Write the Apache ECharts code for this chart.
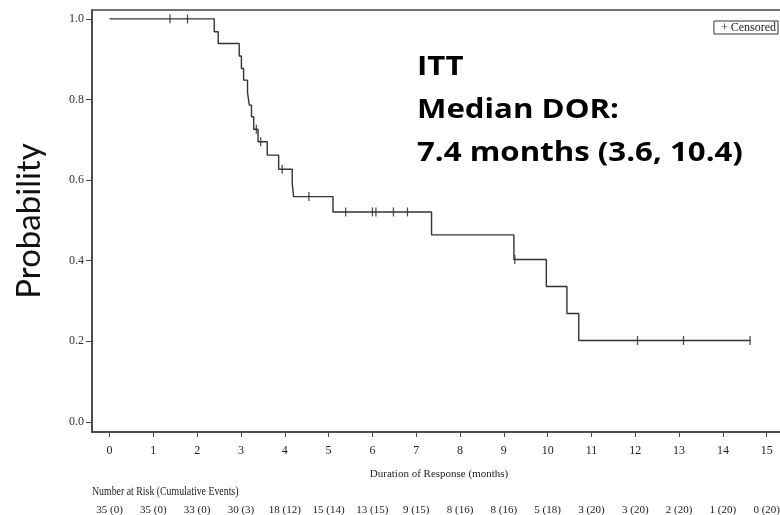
<!DOCTYPE html>
<html>
<head>
<meta charset="utf-8">
<script src="https://cdn.jsdelivr.net/npm/echarts@6/dist/echarts.min.js"></script>
<style>
html,body{margin:0;padding:0;background:#fff;}
#chart{width:780px;height:515px;}
</style>
</head>
<body>
<div id="chart"></div>
<script>
// Kaplan-Meier step points: event times (months) and survival after each step
const kmTimes = [0, 2.39, 2.48, 2.96, 3.01, 3.06, 3.15, 3.19, 3.24, 3.29, 3.39, 3.60, 3.86, 4.17, 4.20, 5.10, 7.35, 9.23, 9.97, 10.44, 10.71, 14.62];
const kmProb  = [1.0, 0.968, 0.939, 0.908, 0.877, 0.848, 0.817, 0.786, 0.757, 0.726, 0.695, 0.662, 0.627, 0.593, 0.559, 0.521, 0.464, 0.403, 0.336, 0.269, 0.202, 0.202];
// Censored observations
const censorTimes = [1.38, 1.78, 3.35, 3.45, 3.94, 4.55, 5.39, 6.00, 6.08, 6.48, 6.80, 9.25, 12.05, 13.10, 14.62];
const censorProb  = [1.0, 1.0, 0.726, 0.695, 0.627, 0.559, 0.521, 0.521, 0.521, 0.521, 0.521, 0.403, 0.202, 0.202, 0.202];
// Axis ticks
const xTicks = [0,1,2,3,4,5,6,7,8,9,10,11,12,13,14,15];
const yTicks = [0.0, 0.2, 0.4, 0.6, 0.8, 1.0];
// Number at risk (cumulative events) at each x tick
const atRisk = ["35 (0)","35 (0)","33 (0)","30 (3)","18 (12)","15 (14)","13 (15)","9 (15)","8 (16)","8 (16)","5 (18)","3 (20)","3 (20)","2 (20)","1 (20)","0 (20)"];
const annotation = ["ITT", "Median DOR:", "7.4 months (3.6, 10.4)"];

const serif = '"Liberation Serif", "DejaVu Serif", serif';
const chart = echarts.init(document.getElementById('chart'), null, {renderer: 'canvas'});

const kmData = kmTimes.map((t, i) => [t, kmProb[i]]);
const censorData = censorTimes.map((t, i) => [t, censorProb[i]]);

chart.setOption({
  animation: false,
  backgroundColor: '#fff',
  grid: {
    left: 92, right: -6, top: 10, bottom: 83,
    outerBoundsMode: 'none', containLabel: false,
    show: true, borderColor: '#444', borderWidth: 1.5, backgroundColor: 'transparent'
  },
  legend: {
    data: ['Censored'],
    right: 2, top: 21,
    icon: 'rect', itemWidth: 0, itemHeight: 0, itemGap: 0,
    formatter: () => '+ Censored',
    borderColor: '#333', borderWidth: 1, padding: [1, 2, 0, 2],
    textStyle: {fontFamily: serif, fontSize: 12, color: '#222', padding: [0,0,0,0]}
  },
  xAxis: [{
    type: 'value', min: -0.4, max: 15.44,
    name: 'Duration of Response (months)', nameLocation: 'middle', nameGap: 37,
    nameTextStyle: {fontFamily: serif, fontSize: 11, color: '#222'},
    axisLine: {show: true, onZero: false, lineStyle: {color: '#444', width: 1.5}},
    axisTick: {show: true, length: 5, customValues: xTicks, lineStyle: {color: '#444'}},
    axisLabel: {customValues: xTicks, fontFamily: serif, fontSize: 12, color: '#222', margin: 13,
      formatter: v => String(Math.round(v))},
    splitLine: {show: false}
  }, {
    type: 'value', min: -0.4, max: 15.44, position: 'bottom', offset: 65,
    axisLine: {show: false}, axisTick: {show: false},
    axisLabel: {customValues: xTicks, fontFamily: serif, fontSize: 11, color: '#222',
      formatter: v => atRisk[Math.round(v)] || ''},
    splitLine: {show: false}
  }],
  yAxis: {
    type: 'value', min: -0.025, max: 1.022,
    name: 'Probability', nameLocation: 'middle', nameGap: 46, nameRotate: 90,
    nameTextStyle: {fontFamily: 'Lato, "Open Sans", sans-serif', fontSize: 33, color: '#111'},
    axisLine: {show: true, onZero: false, lineStyle: {color: '#444', width: 1.5}},
    axisTick: {show: true, length: 6, customValues: yTicks, lineStyle: {color: '#444'}},
    axisLabel: {customValues: yTicks, fontFamily: serif, fontSize: 12, color: '#333', margin: 8,
      formatter: v => v.toFixed(1)},
    splitLine: {show: false}
  },
  graphic: [{
    type: 'text', x: 92, y: 486, scaleX: 0.82,
    style: {text: 'Number at Risk (Cumulative Events)', font: '12px ' + serif, fill: '#222'}
  }, {
    type: 'text', x: 417, y: 46, scaleX: 1.2,
    style: {text: annotation.join('\n'), font: 'bold 26px "Open Sans", Lato, sans-serif',
      lineHeight: 43, fill: '#000'}
  }],
  series: [{
    name: 'KM', type: 'line', step: 'end', data: kmData,
    showSymbol: false, symbol: 'none',
    lineStyle: {color: '#333', width: 1.4}
  }, {
    name: 'Censored', type: 'scatter', data: censorData,
    symbol: 'rect', symbolSize: [1.3, 9],
    itemStyle: {color: '#222'}
  }]
});
</script>
</body>
</html>
